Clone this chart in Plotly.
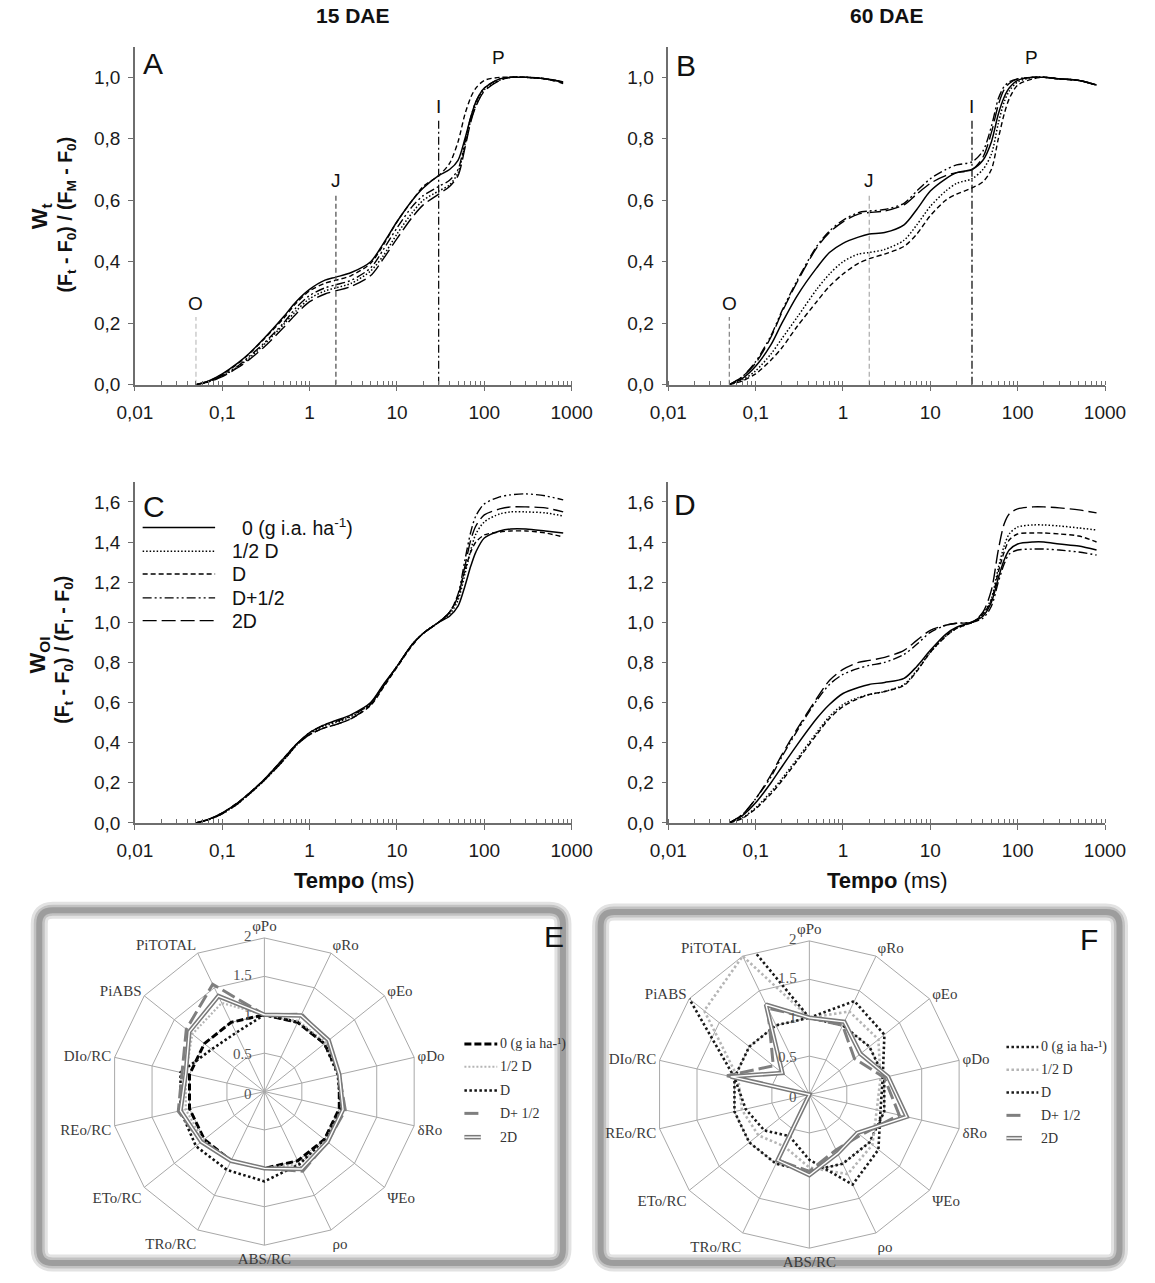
import math
import plotly.graph_objects as go

W, H = 1155, 1283

# ---------------- data ----------------
t_ms = [0.05, 0.07, 0.1, 0.15, 0.2, 0.3, 0.5, 0.7, 1, 1.5, 2, 3, 5, 7, 10, 15, 20, 30,
        40, 50, 60, 70, 80, 100, 150, 200, 300, 500, 800]

series_labels = ["0 (g i.a. ha<sup>-1</sup>)", "1/2 D", "D", "D+1/2", "2D"]

# Panel A: 15 DAE, Wt
A_0    = [0, .012, .035, .07, .10, .15, .22, .27, .31, .34, .35, .365, .40, .46, .53, .60, .64, .68, .70, .73, .80, .87, .92, .965, .995, 1.0, 1.0, .995, .985]
A_half = [0, .010, .028, .058, .085, .13, .195, .24, .28, .305, .315, .33, .37, .42, .49, .56, .60, .63, .65, .69, .78, .86, .91, .96, .99, 1.0, 1.0, .995, .985]
A_D    = [0, .012, .033, .068, .098, .148, .215, .265, .305, .33, .34, .355, .395, .455, .53, .60, .645, .68, .72, .79, .88, .935, .965, .99, 1.0, 1.0, 1.0, .995, .982]
A_Dh   = [0, .010, .030, .060, .090, .135, .20, .25, .29, .315, .325, .34, .38, .44, .51, .58, .615, .645, .665, .70, .79, .87, .92, .965, .995, 1.0, 1.0, .995, .985]
A_2D   = [0, .009, .026, .055, .080, .122, .185, .23, .27, .295, .305, .32, .355, .41, .475, .545, .585, .62, .645, .68, .77, .855, .905, .955, .99, 1.0, 1.0, .995, .98]

# Panel B: 60 DAE, Wt
B_0    = [0, .02, .06, .13, .20, .29, .38, .43, .46, .48, .49, .495, .52, .57, .63, .67, .69, .70, .73, .79, .88, .935, .965, .99, 1.0, 1.0, .995, .99, .975]
B_half = [0, .015, .045, .10, .15, .22, .31, .36, .40, .425, .43, .44, .47, .52, .58, .63, .655, .67, .70, .75, .85, .92, .955, .985, 1.0, 1.0, .995, .99, .975]
B_D    = [0, .012, .035, .08, .12, .19, .27, .32, .36, .395, .41, .425, .45, .49, .55, .60, .62, .64, .66, .70, .80, .88, .93, .975, .995, 1.0, .995, .99, .975]
B_Dh   = [0, .025, .075, .16, .24, .34, .45, .50, .535, .56, .565, .57, .59, .63, .67, .70, .715, .725, .76, .84, .93, .97, .985, .995, 1.0, 1.0, .995, .99, .975]
B_2D   = [0, .025, .07, .155, .235, .335, .445, .495, .53, .555, .56, .565, .585, .62, .655, .68, .69, .70, .74, .82, .91, .96, .98, .995, 1.0, 1.0, .995, .99, .975]

# Panel C: 15 DAE, WOI
C_0    = [0, .018, .05, .10, .145, .215, .32, .39, .45, .49, .51, .54, .60, .69, .78, .89, .945, 1.0, 1.03, 1.08, 1.18, 1.28, 1.35, 1.42, 1.455, 1.465, 1.465, 1.455, 1.445]
C_half = [0, .016, .045, .095, .14, .21, .31, .385, .445, .485, .50, .53, .595, .685, .78, .89, .945, 1.0, 1.04, 1.11, 1.24, 1.36, 1.44, 1.50, 1.54, 1.55, 1.55, 1.545, 1.53]
C_D    = [0, .018, .05, .10, .145, .215, .32, .39, .44, .475, .49, .52, .585, .675, .775, .885, .945, 1.0, 1.05, 1.13, 1.26, 1.35, 1.40, 1.435, 1.45, 1.455, 1.455, 1.445, 1.425]
C_Dh   = [0, .017, .048, .098, .142, .212, .315, .39, .45, .49, .505, .535, .595, .685, .78, .89, .945, 1.0, 1.05, 1.14, 1.31, 1.45, 1.53, 1.59, 1.625, 1.635, 1.64, 1.63, 1.61]
C_2D   = [0, .016, .045, .095, .14, .21, .31, .385, .44, .475, .49, .52, .59, .68, .78, .89, .945, 1.0, 1.05, 1.13, 1.28, 1.41, 1.48, 1.535, 1.565, 1.575, 1.575, 1.57, 1.55]

# Panel D: 60 DAE, WOI
D_0    = [0, .035, .10, .20, .28, .39, .52, .59, .645, .675, .69, .70, .72, .78, .86, .94, .975, 1.0, 1.03, 1.10, 1.22, 1.31, 1.36, 1.39, 1.40, 1.40, 1.39, 1.38, 1.36]
D_half = [0, .025, .075, .155, .22, .32, .45, .53, .59, .625, .64, .655, .69, .76, .85, .93, .97, 1.0, 1.04, 1.12, 1.27, 1.38, 1.44, 1.475, 1.485, 1.485, 1.48, 1.47, 1.46]
D_D    = [0, .022, .07, .145, .21, .31, .44, .52, .58, .62, .64, .655, .685, .755, .85, .93, .97, 1.0, 1.04, 1.11, 1.25, 1.35, 1.41, 1.44, 1.445, 1.445, 1.44, 1.43, 1.40]
D_Dh   = [0, .04, .12, .23, .33, .46, .61, .69, .74, .77, .785, .80, .84, .89, .95, .985, .995, 1.0, 1.02, 1.08, 1.20, 1.29, 1.34, 1.36, 1.365, 1.365, 1.36, 1.35, 1.335]
D_2D   = [0, .04, .12, .24, .34, .47, .62, .71, .765, .80, .81, .825, .86, .91, .96, .985, .995, 1.0, 1.05, 1.16, 1.36, 1.49, 1.54, 1.565, 1.575, 1.575, 1.57, 1.56, 1.545]

# OJIP markers (time in ms, height of the marker line)
ojip_t = [0.05, 2, 30]
ojip_labels = ["O", "J", "I"]
ojip_top = [0.22, 0.62, 0.86]
P_time = 145

x_tickvals = [0.01, 0.1, 1, 10, 100, 1000]
x_ticktext = ["0,01", "0,1", "1", "10", "100", "1000"]
yAB_tickvals = [0, 0.2, 0.4, 0.6, 0.8, 1.0]
yAB_ticktext = ["0,0", "0,2", "0,4", "0,6", "0,8", "1,0"]
yCD_tickvals = [0, 0.2, 0.4, 0.6, 0.8, 1.0, 1.2, 1.4, 1.6]
yCD_ticktext = ["0,0", "0,2", "0,4", "0,6", "0,8", "1,0", "1,2", "1,4", "1,6"]

# Radar (JIP-test parameters, relative to control)
radar_cats = ["φPo", "φRo", "φEo", "φDo", "δRo", "ΨEo", "ρo", "ABS/RC",
              "TRo/RC", "ETo/RC", "REo/RC", "DIo/RC", "PiABS", "PiTOTAL"]
radar_labels = ["0 (g ia ha-¹)", "1/2 D", "D", "D+ 1/2", "2D"]
E_0    = [1, 1, 1, 1, 1, 1, 1, 1, 1, 1, 1, 1, 1, 1]
E_half = [1.0, 1.02, 1.02, 1.0, 1.03, 1.02, 1.05, 1.0, 1.0, 1.02, 1.05, 1.05, 1.2, 1.28]
E_D    = [1.0, 1.0, 1.0, 0.98, 1.02, 1.0, 1.05, 1.17, 1.13, 1.14, 1.12, 1.12, 0.88, 0.85]
E_Dh   = [1.0, 1.12, 1.05, 1.0, 1.08, 1.05, 1.15, 1.0, 1.0, 1.05, 1.15, 1.1, 1.3, 1.55]
E_2D   = [1.0, 1.1, 1.07, 1.0, 1.05, 1.05, 1.12, 1.0, 1.0, 1.05, 1.12, 1.05, 1.25, 1.38]

F_0    = [1, 1, 1, 1, 1, 1, 1, 1, 1, 1, 1, 1, 1, 1]
F_half = [1.0, 1.2, 1.15, 0.95, 0.9, 1.05, 1.15, 0.95, 0.75, 0.85, 0.9, 0.95, 1.75, 2.0]
F_D    = [1.0, 1.35, 1.25, 0.98, 0.95, 1.15, 1.3, 0.85, 0.6, 0.75, 0.85, 1.0, 2.0, 2.65]
F_Dh   = [1.0, 1.0, 0.75, 1.0, 1.2, 0.85, 0.8, 1.0, 0.95, 0.0, 0.0, 1.1, 0.6, 1.25]
F_2D   = [1.0, 1.05, 0.85, 1.05, 1.3, 0.8, 0.85, 1.05, 0.95, 0.0, 0.0, 1.05, 0.45, 1.3]
radial_tickvals = [0, 0.5, 1, 1.5, 2]
radial_ticktext = ["0", "0.5", "1", "1.5", "2"]
radial_max = 2

# ---------------- helpers ----------------
def px(x):
    return x / W

def py(y):
    return 1 - y / H

SANS = "Liberation Sans, Arial, sans-serif"
SERIF = "Liberation Serif, Times New Roman, serif"

line_styles = [
    dict(color="black", width=1.5, dash="solid"),
    dict(color="black", width=1.5, dash="1.5px,2px"),
    dict(color="black", width=1.4, dash="5px,3px"),
    dict(color="black", width=1.4, dash="9px,3px,2px,3px,2px,3px"),
    dict(color="black", width=1.4, dash="14px,5px"),
]

fig = go.Figure()

panels = [
    ("x", "y", [A_0, A_half, A_D, A_Dh, A_2D]),
    ("x2", "y2", [B_0, B_half, B_D, B_Dh, B_2D]),
    ("x3", "y3", [C_0, C_half, C_D, C_Dh, C_2D]),
    ("x4", "y4", [D_0, D_half, D_D, D_Dh, D_2D]),
]
for xa, ya, data in panels:
    for i, vals in enumerate(data):
        fig.add_trace(go.Scatter(
            x=t_ms, y=vals, mode="lines", xaxis=xa, yaxis=ya,
            line=dict(shape="spline", smoothing=0.8, **line_styles[i]),
            name=series_labels[i], showlegend=False, hoverinfo="skip"))

# OJIP marker lines in A and B
marker_styles_A = [dict(color="#c4c4c4", width=1.3, dash="5px,3px"),
                   dict(color="#555555", width=1.3, dash="5px,3px"),
                   dict(color="#111111", width=1.3, dash="8px,3px,2px,3px")]
marker_styles_B = [dict(color="#8c8c8c", width=1.3, dash="5px,3px"),
                   dict(color="#b0b0b0", width=1.3, dash="5px,3px"),
                   dict(color="#111111", width=1.3, dash="8px,3px,2px,3px")]
for (xa, ya, styles) in [("x", "y", marker_styles_A), ("x2", "y2", marker_styles_B)]:
    for k in range(3):
        fig.add_trace(go.Scatter(
            x=[ojip_t[k], ojip_t[k]], y=[0, ojip_top[k]], mode="lines",
            xaxis=xa, yaxis=ya, line=styles[k], showlegend=False, hoverinfo="skip"))

# ---------------- axes ----------------
dom_x_left = [px(121), px(573)]
dom_x_right = [px(673), px(1125)]
dom_y_top = [py(388), py(47)]
dom_y_bot = [py(830), py(486)]

TICKFONT = dict(family=SANS, size=19, color="#1a1a1a")

def xaxis_cfg(domain, anchor):
    return dict(domain=domain, anchor=anchor, type="log", range=[-2, 3],
                tickvals=x_tickvals, ticktext=x_ticktext,
                showline=True, linecolor="#6e6e6e", linewidth=1.5,
                ticks="outside", ticklen=5, tickcolor="#6e6e6e", tickwidth=1.2,
                minor=dict(ticks="inside", ticklen=4, tickcolor="#6e6e6e", dtick="D1", showgrid=False),
                showgrid=False, zeroline=False, ticklabelstandoff=5, tickfont=TICKFONT)

def yaxis_cfg(domain, anchor, rng, tv, tt):
    return dict(domain=domain, anchor=anchor, range=rng, tickvals=tv, ticktext=tt,
                showline=True, linecolor="#6e6e6e", linewidth=1.5,
                ticks="outside", ticklen=5, tickcolor="#6e6e6e", tickwidth=1.2,
                showgrid=False, zeroline=False, ticklabelstandoff=4, tickfont=TICKFONT)

fig.update_layout(
    xaxis=xaxis_cfg(dom_x_left, "y"),
    yaxis=yaxis_cfg(dom_y_top, "x", [0, 1.1], yAB_tickvals, yAB_ticktext),
    xaxis2=xaxis_cfg(dom_x_right, "y2"),
    yaxis2=yaxis_cfg(dom_y_top, "x2", [0, 1.1], yAB_tickvals, yAB_ticktext),
    xaxis3=xaxis_cfg(dom_x_left, "y3"),
    yaxis3=yaxis_cfg(dom_y_bot, "x3", [0, 1.7], yCD_tickvals, yCD_ticktext),
    xaxis4=xaxis_cfg(dom_x_right, "y4"),
    yaxis4=yaxis_cfg(dom_y_bot, "x4", [0, 1.7], yCD_tickvals, yCD_ticktext),
)

# ---------------- radar charts ----------------
radar_styles_E = [
    [dict(color="black", width=3, dash="7px,3px")],
    [dict(color="#b5b5b5", width=2.2, dash="2px,2px")],
    [dict(color="#111111", width=2.6, dash="2.5px,2.5px")],
    [dict(color="#7f7f7f", width=3, dash="14px,5px")],
    [dict(color="#7a7a7a", width=4.5, dash="solid"), dict(color="white", width=1.4, dash="solid")],
]
radar_styles_F = [
    [dict(color="#1a1a1a", width=2.6, dash="2.5px,2.5px")],
    [dict(color="#b5b5b5", width=2.6, dash="2.5px,2.5px")],
    [dict(color="#1a1a1a", width=2.6, dash="2.5px,2.5px")],
    [dict(color="#7f7f7f", width=3, dash="14px,5px")],
    [dict(color="#7a7a7a", width=4.5, dash="solid"), dict(color="white", width=1.4, dash="solid")],
]

for pname, data, styles in [("polar", [E_0, E_half, E_D, E_Dh, E_2D], radar_styles_E),
                            ("polar2", [F_0, F_half, F_D, F_Dh, F_2D], radar_styles_F)]:
    for i, vals in enumerate(data):
        for st in styles[i]:
            fig.add_trace(go.Scatterpolar(
                r=vals + [vals[0]], theta=radar_cats + [radar_cats[0]], mode="lines",
                subplot=pname, line=st, cliponaxis=False, showlegend=False,
                hoverinfo="skip", name=radar_labels[i]))

def polar_cfg(cx, cy, r):
    return dict(
        domain=dict(x=[px(cx - r), px(cx + r)], y=[py(cy + r), py(cy - r)]),
        bgcolor="rgba(0,0,0,0)",
        gridshape="linear",
        angularaxis=dict(direction="clockwise", rotation=90, type="category",
                         categoryarray=radar_cats, showline=True, linecolor="#a8a8a8",
                         linewidth=1, gridcolor="#a8a8a8", gridwidth=1, ticks="",
                         tickfont=dict(family=SERIF, size=15, color="#3a3a3a")),
        radialaxis=dict(range=[0, radial_max], tickvals=radial_tickvals,
                        angle=90, showticklabels=False, showline=False,
                        ticks="", gridcolor="#a8a8a8", gridwidth=1),
    )

E_center, F_center, R_radar = (255, 1101), (819, 1104), 159
fig.update_layout(polar=polar_cfg(*E_center, R_radar), polar2=polar_cfg(*F_center, R_radar))

# ---------------- shapes ----------------
shapes = []

def rrect_path(x0, y0, x1, y1, r):
    X = lambda v: px(v)
    Y = lambda v: py(v)
    return (f"M {X(x0 + r)},{Y(y0)} L {X(x1 - r)},{Y(y0)} Q {X(x1)},{Y(y0)} {X(x1)},{Y(y0 + r)} "
            f"L {X(x1)},{Y(y1 - r)} Q {X(x1)},{Y(y1)} {X(x1 - r)},{Y(y1)} "
            f"L {X(x0 + r)},{Y(y1)} Q {X(x0)},{Y(y1)} {X(x0)},{Y(y1 - r)} "
            f"L {X(x0)},{Y(y0 + r)} Q {X(x0)},{Y(y0)} {X(x0 + r)},{Y(y0)} Z")

for (x0, y0, x1, y1) in [(22, 918, 564, 1274), (603, 920, 1140, 1274)]:
    for wdt, col in [(17, "#e2e2e2"), (11, "#c2c2c2"), (6, "#9d9d9d")]:
        shapes.append(dict(type="path", xref="paper", yref="paper",
                           path=rrect_path(x0, y0, x1, y1, 14),
                           line=dict(color=col, width=wdt), layer="below"))

# Legend of panel C (drawn manually)
legC_rows = [532, 556, 579, 603, 626]
for i, yrow in enumerate(legC_rows):
    shapes.append(dict(type="line", xref="paper", yref="paper",
                       x0=px(129), x1=px(204), y0=py(yrow), y1=py(yrow),
                       line=line_styles[i]))

# Legends of radar charts
def radar_legend(x0, x1, x1_short, rows, styles):
    for i, yrow in enumerate(rows):
        xe = x1 if i < 3 else x1_short
        for st in styles[i]:
            shapes.append(dict(type="line", xref="paper", yref="paper",
                               x0=px(x0), x1=px(xe), y0=py(yrow), y1=py(yrow),
                               line=dict(color=st["color"], width=st["width"], dash=st["dash"])))

legE_rows = [1053, 1076, 1100, 1123, 1147]
legF_rows = [1056, 1079, 1102, 1125, 1148]
radar_legend(462, 496, 479, legE_rows, radar_styles_E)
radar_legend(1023, 1056, 1039, legF_rows, radar_styles_F)

fig.update_layout(shapes=shapes)

# ---------------- annotations ----------------
ann = []

def pa(x, y, text, size, xanchor="center", yanchor="middle", family=SANS, color="#111111", angle=0):
    ann.append(dict(x=px(x), y=py(y), xref="paper", yref="paper", text=text, showarrow=False,
                    xanchor=xanchor, yanchor=yanchor, textangle=angle,
                    font=dict(family=family, size=size, color=color)))

pa(347, 16, "<b>15 DAE</b>", 21)
pa(899, 16, "<b>60 DAE</b>", 21)
pa(127, 64, "A", 30, xanchor="left")
pa(679, 66, "B", 30, xanchor="left")
pa(127, 511, "C", 30, xanchor="left")
pa(677, 509, "D", 30, xanchor="left")
pa(555, 945, "E", 30)
pa(1108, 948, "F", 30)

# y-axis titles
pa(24, 218, "<b>W<sub>t</sub></b>", 22, angle=-90)
pa(50, 216, "<b>(F<sub>t</sub> - F<sub>0</sub>) / (F<sub>M</sub> - F<sub>0</sub>)</b>", 19.5, angle=-90)
pa(22, 661, "<b>W<sub>OI</sub></b>", 22, angle=-90)
pa(47, 655, "<b>(F<sub>t</sub> - F<sub>0</sub>) / (F<sub>I</sub> - F<sub>0</sub>)</b>", 19.5, angle=-90)

# x-axis titles
pa(348, 888, "<b>Tempo</b> (ms)", 22)
pa(900, 888, "<b>Tempo</b> (ms)", 22)

# Radial scale labels of the radar charts (placed beside the vertical spoke)
for (cx, cy) in [E_center, F_center]:
    for v, txt in zip(radial_tickvals, radial_ticktext):
        pa(cx - 11, cy - v / radial_max * R_radar + 2, txt, 15, xanchor="right",
           family=SERIF, color="#555555")

# OJIP letters (data coordinates)
for xa, ya in [("x", "y"), ("x2", "y2")]:
    for k in range(3):
        ann.append(dict(x=math.log10(ojip_t[k]), y=ojip_top[k] + 0.045, xref=xa, yref=ya,
                        text=ojip_labels[k], showarrow=False, yanchor="middle",
                        font=dict(family=SANS, size=19, color="#111111")))
    ann.append(dict(x=math.log10(P_time), y=1.065, xref=xa, yref=ya, text="P", showarrow=False,
                    yanchor="middle", font=dict(family=SANS, size=19, color="#111111")))

# Legend text for panel C
pa(230, 532, "0 (g i.a. ha<sup>-1</sup>)", 19.5, xanchor="left")
for i in range(1, 5):
    pa(219, legC_rows[i], series_labels[i], 19.5, xanchor="left")

# Radar legend texts
for rows, xs in [(legE_rows, 497), (legF_rows, 1057)]:
    for i, yrow in enumerate(rows):
        pa(xs, yrow, radar_labels[i], 14, xanchor="left", family=SERIF, color="#333333")

fig.update_layout(annotations=ann)

fig.update_layout(width=W, height=H, margin=dict(l=0, r=0, t=0, b=0),
                  paper_bgcolor="white", plot_bgcolor="white", showlegend=False)

fig.write_html("out.html")
